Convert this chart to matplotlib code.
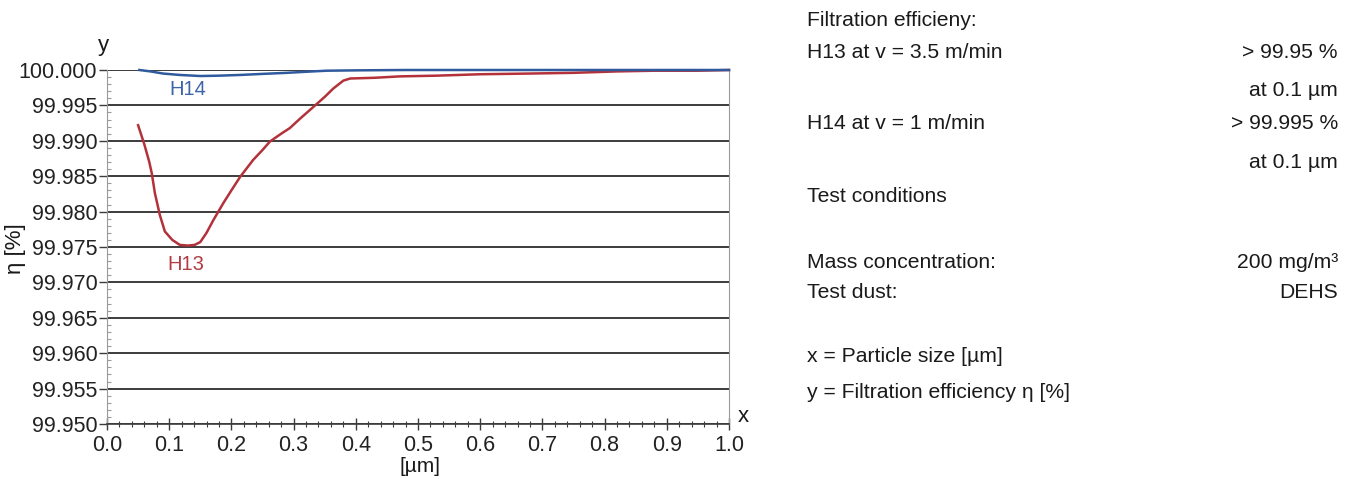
import matplotlib
matplotlib.use("Agg")
import matplotlib.pyplot as plt
from matplotlib.ticker import MultipleLocator, FormatStrFormatter

plt.rcParams["font.family"] = ["Liberation Sans", "DejaVu Sans"]

BLUE = "#2f5b9e"
RED = "#b3323a"
GRID = "#3c3c3c"
SPINE = "#9a9a9a"
DARK = "#1a1a1a"

# ── Data ──────────────────────────────────────────────────────────────────────
h13_x = [0.050, 0.060, 0.068, 0.072, 0.077, 0.085, 0.093, 0.105, 0.117, 0.130,
         0.141, 0.150, 0.160, 0.171, 0.187, 0.200, 0.214, 0.235, 0.250, 0.262,
         0.280, 0.294, 0.310, 0.332, 0.350, 0.364, 0.380, 0.391, 0.430, 0.471,
         0.530, 0.600, 0.680, 0.750, 0.820, 0.880, 0.950, 1.000]
h13_y = [99.9922, 99.9895, 99.9870, 99.9854, 99.9826, 99.9795, 99.9772, 99.9760,
         99.9753, 99.9752, 99.9753, 99.9757, 99.9770, 99.9788, 99.9812, 99.9830,
         99.9849, 99.9873, 99.9887, 99.9899, 99.9910, 99.9918, 99.9931, 99.9948,
         99.9962, 99.9974, 99.9985, 99.9988, 99.9989, 99.9991, 99.9992, 99.9994,
         99.9995, 99.9996, 99.9998, 99.9999, 99.9999, 100.0000]

h14_x = [0.052, 0.070, 0.090, 0.117, 0.150, 0.180, 0.214, 0.250, 0.289, 0.320,
         0.353, 0.400, 0.480, 0.600, 0.800, 1.000]
h14_y = [100.0000, 99.9998, 99.9995, 99.9993, 99.99915, 99.9992, 99.9993,
         99.99945, 99.9996, 99.99975, 99.9999, 99.99995, 100.0000, 100.0000,
         100.0000, 100.0000]

info_left = ["Filtration efficieny:", "H13 at v = 3.5 m/min", "",
             "H14 at v = 1 m/min", "", "Test conditions", "",
             "Mass concentration:", "Test dust:", "",
             "x = Particle size [µm]", "y = Filtration efficiency η [%]"]
info_right = ["", "> 99.95 %", "at 0.1 µm", "> 99.995 %", "at 0.1 µm", "", "",
              "200 mg/m³", "DEHS", "", "", ""]
info_rows = [21, 52, 90, 124, 162, 196, 229, 262, 293, 325, 357, 392]


def main():
    W, H = 1354, 479
    fig = plt.figure(figsize=(W / 100, H / 100), dpi=100)
    ax = fig.add_axes([107 / W, 1 - 424 / H, 622 / W, 354 / H])

    ax.plot(h13_x, h13_y, color=RED, linewidth=1.8, clip_on=False, zorder=4)
    ax.plot(h14_x, h14_y, color=BLUE, linewidth=1.8, clip_on=False, zorder=5)

    ax.set_xlim(0, 1.0)
    ax.set_ylim(99.95, 100.0)
    ax.xaxis.set_major_locator(MultipleLocator(0.1))
    ax.xaxis.set_minor_locator(MultipleLocator(0.02))
    ax.yaxis.set_major_locator(MultipleLocator(0.005))
    ax.yaxis.set_minor_locator(MultipleLocator(0.001))
    ax.xaxis.set_major_formatter(FormatStrFormatter("%.1f"))
    ax.yaxis.set_major_formatter(FormatStrFormatter("%.3f"))

    ax.yaxis.grid(True, which="major", color=GRID, linewidth=1.4, zorder=1)
    ax.set_axisbelow(True)

    ax.spines["top"].set_visible(False)
    ax.spines["left"].set_color(SPINE)
    ax.spines["right"].set_color(SPINE)
    ax.spines["bottom"].set_color(GRID)
    ax.spines["bottom"].set_linewidth(1.2)

    ax.tick_params(axis="both", which="major", labelsize=15.5, colors=DARK,
                   labelcolor="#222222")
    ax.tick_params(axis="y", which="major", direction="out", length=6,
                   width=1, color=GRID, pad=1)
    ax.tick_params(axis="y", which="minor", direction="in", length=3,
                   width=0.8, color=SPINE)
    ax.tick_params(axis="x", which="major", direction="inout", length=8,
                   width=1, color=GRID, pad=4)
    ax.tick_params(axis="x", which="minor", direction="inout", length=4,
                   width=0.8, color=GRID)

    ax.text(0.13, 99.99718, "H14", color="#3d64a8", fontsize=14.5,
            ha="center", va="center")
    ax.text(0.126, 99.97246, "H13", color="#b03c42", fontsize=14.5,
            ha="center", va="center")

    fig.text(103 / W, 1 - 45 / H, "y", fontsize=16, ha="center", va="center",
             color=DARK)
    fig.text(743 / W, 1 - 416 / H, "x", fontsize=16, ha="center", va="center",
             color=DARK)
    fig.text(16 / W, 1 - 249 / H, "η [%]", fontsize=16, rotation=90,
             ha="center", va="center", color=DARK)
    fig.text(420 / W, 1 - 466 / H, "[µm]", fontsize=15, ha="center",
             va="center", color=DARK)

    for left, right, row in zip(info_left, info_right, info_rows):
        if left:
            fig.text(807 / W, 1 - row / H, left, fontsize=15.2, ha="left",
                     va="center", color=DARK)
        if right:
            fig.text(1338 / W, 1 - row / H, right, fontsize=15.2, ha="right",
                     va="center", color=DARK)

    fig.savefig("out.png", dpi=100, facecolor="white")
    plt.close(fig)


if __name__ == "__main__":
    main()
